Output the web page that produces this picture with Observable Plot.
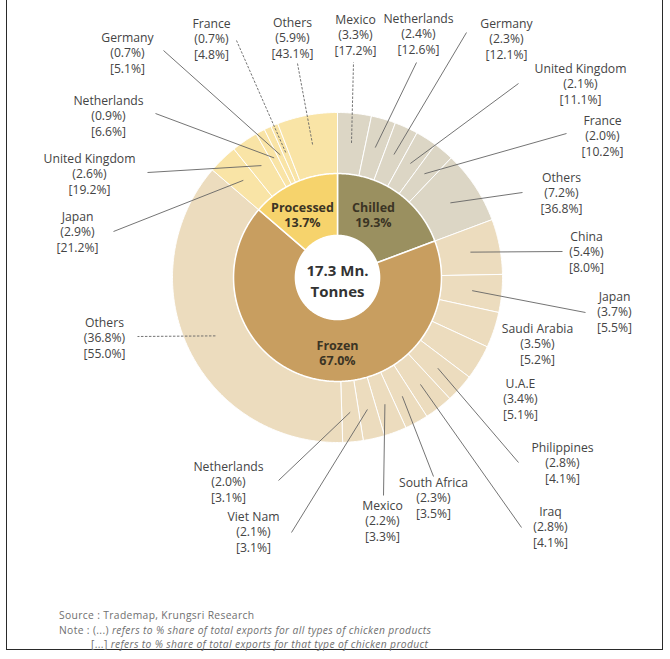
<!DOCTYPE html>
<html>
<head>
<meta charset="utf-8">
<script src="https://cdn.jsdelivr.net/npm/d3@7"></script>
<script src="https://cdn.jsdelivr.net/npm/@observablehq/plot@0.6"></script>
<style>
  html, body { margin: 0; padding: 0; background: #fff; }
  body { width: 670px; height: 659px; position: relative; overflow: hidden; font-family: "Open Sans", sans-serif; }
  #frame { position: absolute; left: 6px; top: -2px; width: 655px; height: 651px; border: 1.5px solid #2a2a2a; border-top: none; }
  #chart { position: absolute; left: 0; top: 0; }
  .note { position: absolute; font-size: 10.3px; line-height: 12px; height: 12px; color: #707070; white-space: nowrap; letter-spacing: 0.35px; }
  .note i { font-style: italic; }
</style>
</head>
<body>
<div id="frame"></div>
<div id="chart"></div>
<div class="note" style="left:59px; top:609px;">Source : Trademap, Krungsri Research</div>
<div class="note" style="left:59px; top:623.5px;">Note : (...) <i>refers to % share of total exports for all types of chicken products</i></div>
<div class="note" style="left:91px; top:637.5px;">[...] <i>refers to % share of total exports for that type of chicken product</i></div>
<script>
// ---------------- DATA ----------------
const types = ["Chilled", "Frozen", "Processed"];
const typeShares = [19.3, 67.0, 13.7];
const totalText = "17.3 Mn.\nTonnes";

const chilledCountries = ["Mexico", "Netherlands", "Germany", "United Kingdom", "France", "Others"];
const chilledShareTotal = [3.3, 2.4, 2.3, 2.1, 2.0, 7.2];
const chilledShareType = [17.2, 12.6, 12.1, 11.1, 10.2, 36.8];

const frozenCountries = ["China", "Japan", "Saudi Arabia", "U.A.E", "Philippines", "Iraq", "South Africa", "Mexico", "Viet Nam", "Netherlands", "Others"];
const frozenShareTotal = [5.4, 3.7, 3.5, 3.4, 2.8, 2.8, 2.3, 2.2, 2.1, 2.0, 36.8];
const frozenShareType = [8.0, 5.5, 5.2, 5.1, 4.1, 4.1, 3.5, 3.3, 3.1, 3.1, 55.0];

const processedCountries = ["Japan", "United Kingdom", "Netherlands", "Germany", "France", "Others"];
const processedShareTotal = [2.9, 2.6, 0.9, 0.7, 0.7, 5.9];
const processedShareType = [21.2, 19.2, 6.6, 5.1, 4.8, 43.1];

// ---------------- LAYOUT / STYLE ----------------
const W = 670, H = 600, CX = 337, CY = 277, R = 165;
const R_HOLE = 0.255, R_MID = 0.63, R_OUT = 1.0, R_LEAD = 0.82;
const innerColors = {Chilled: "#9a9060", Frozen: "#c89e60", Processed: "#f6d36c"};
const outerColors = {Chilled: "#dcd6c5", Frozen: "#ecdcbe", Processed: "#f9e4a6"};
// label block centres and leader ends, in page pixels
const labelLayout = {
  "Chilled|Mexico": {at: [355, 34], end: [353, 62], dash: true},
  "Chilled|Netherlands": {at: [418, 33], end: [416, 62]},
  "Chilled|Germany": {at: [506, 38], end: [466, 32]},
  "Chilled|United Kingdom": {at: [580, 83], end: [518, 83]},
  "Chilled|France": {at: [602, 135], end: [566, 133]},
  "Chilled|Others": {at: [561, 192], end: [522, 192]},
  "Frozen|China": {at: [586, 251], end: [562, 251]},
  "Frozen|Japan": {at: [614, 311], end: [585, 312]},
  "Frozen|Saudi Arabia": {at: [537, 343]},
  "Frozen|U.A.E": {at: [520, 398]},
  "Frozen|Philippines": {at: [562, 462], end: [518, 462]},
  "Frozen|Iraq": {at: [550, 526], end: [521, 527]},
  "Frozen|South Africa": {at: [433, 497], end: [433, 476]},
  "Frozen|Mexico": {at: [382, 520], end: [383, 495]},
  "Frozen|Viet Nam": {at: [253, 531], end: [291, 532]},
  "Frozen|Netherlands": {at: [228, 481], end: [278, 480]},
  "Frozen|Others": {at: [104, 337], end: [137, 336], dash: true},
  "Processed|Japan": {at: [77, 231], end: [113, 231]},
  "Processed|United Kingdom": {at: [89, 173], end: [147, 172]},
  "Processed|Netherlands": {at: [108, 115], end: [155, 113]},
  "Processed|Germany": {at: [127, 52], end: [163, 50]},
  "Processed|France": {at: [211, 38], end: [236, 40], dash: true},
  "Processed|Others": {at: [292, 37], end: [297, 63], dash: true}
};
const typeLabelAt = {Chilled: [373, 214], Frozen: [337, 352], Processed: [302, 214]};
const centerAt = [337, 279];

// ---------------- BUILD ----------------
const ux = px => (px - CX) / R;
const uy = py => (CY - py) / R;
const rad = deg => deg * Math.PI / 180;

function arcPoly(a0, a1, r0, r1, id) {
  const pts = [];
  const n = Math.max(2, Math.ceil((a1 - a0) / 0.5));
  for (let i = 0; i <= n; i++) {
    const a = rad(a0 + (a1 - a0) * i / n);
    pts.push({id, x: r1 * Math.sin(a), y: r1 * Math.cos(a)});
  }
  for (let i = n; i >= 0; i--) {
    const a = rad(a0 + (a1 - a0) * i / n);
    pts.push({id, x: r0 * Math.sin(a), y: r0 * Math.cos(a)});
  }
  pts.push({...pts[0]});
  return pts;
}

const groups = {
  Chilled: {c: chilledCountries, t: chilledShareTotal, s: chilledShareType},
  Frozen: {c: frozenCountries, t: frozenShareTotal, s: frozenShareType},
  Processed: {c: processedCountries, t: processedShareTotal, s: processedShareType}
};

const innerPolys = {}, outerPolys = {};
const labels = [], leaders = [];
let cumType = 0, cumOuter = 0;
types.forEach((type, ti) => {
  const a0 = cumType / 100 * 360, a1 = (cumType + typeShares[ti]) / 100 * 360;
  innerPolys[type] = arcPoly(a0, a1, R_HOLE, R_MID, type);
  cumType += typeShares[ti];
  const g = groups[type];
  outerPolys[type] = [];
  g.c.forEach((country, i) => {
    const b0 = cumOuter / 100 * 360, b1 = (cumOuter + g.t[i]) / 100 * 360;
    const id = type + "|" + country;
    outerPolys[type].push(...arcPoly(b0, b1, R_MID, R_OUT, id));
    cumOuter += g.t[i];
    const lay = labelLayout[id];
    labels.push({x: ux(lay.at[0]), y: uy(lay.at[1]),
      text: `${country}\n(${g.t[i].toFixed(1)}%)\n[${g.s[i].toFixed(1)}%]`});
    if (lay.end) {
      const m = rad((b0 + b1) / 2);
      leaders.push({x1: R_LEAD * Math.sin(m), y1: R_LEAD * Math.cos(m),
        x2: ux(lay.end[0]), y2: uy(lay.end[1]), dash: !!lay.dash});
    }
  });
});

const typeLabels = types.map((t, i) => ({x: ux(typeLabelAt[t][0]), y: uy(typeLabelAt[t][1]),
  text: `${t}\n${typeShares[i].toFixed(1)}%`}));

const font = "Open Sans, sans-serif";
const marks = [];
types.forEach(t => {
  marks.push(Plot.line(outerPolys[t], {x: "x", y: "y", z: "id", fill: outerColors[t], stroke: "#ffffff", strokeWidth: 1}));
});
types.forEach(t => {
  marks.push(Plot.line(innerPolys[t], {x: "x", y: "y", z: "id", fill: innerColors[t], stroke: "#ffffff", strokeWidth: 1.5}));
});
marks.push(
  Plot.link(leaders.filter(d => !d.dash), {x1: "x1", y1: "y1", x2: "x2", y2: "y2", stroke: "#646464", strokeWidth: 0.9}),
  Plot.link(leaders.filter(d => d.dash), {x1: "x1", y1: "y1", x2: "x2", y2: "y2", stroke: "#646464", strokeWidth: 0.9, strokeDasharray: "2.5,1.5"}),
  Plot.text(labels, {x: "x", y: "y", text: "text", fontSize: 12.2, lineHeight: 1.27, fill: "#444444", fontFamily: font}),
  Plot.text(typeLabels, {x: "x", y: "y", text: "text", fontSize: 12.5, lineHeight: 1.25, fontWeight: "bold", fill: "#3b3424", fontFamily: font}),
  Plot.text([{x: ux(centerAt[0]), y: uy(centerAt[1]), text: totalText}], {x: "x", y: "y", text: "text", fontSize: 15, lineHeight: 1.4, fontWeight: "bold", fill: "#333333", fontFamily: font})
);

const svg = Plot.plot({
  width: W, height: H, margin: 0,
  x: {domain: [-CX / R, (W - CX) / R], axis: null},
  y: {domain: [-(H - CY) / R, CY / R], axis: null},
  style: {background: "transparent", fontFamily: font},
  marks
});
document.getElementById("chart").appendChild(svg);
</script>
</body>
</html>
